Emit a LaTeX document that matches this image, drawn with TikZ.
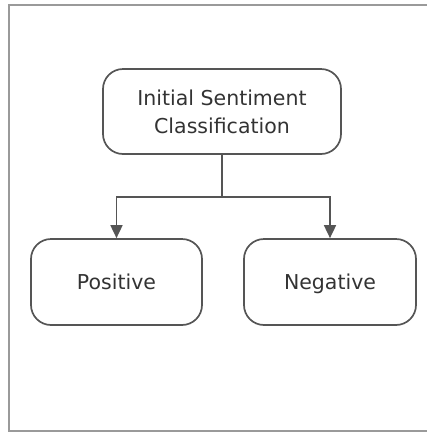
\documentclass[tikz,border=0pt]{standalone}
\usepackage{fontspec}
\setmainfont{DejaVu Sans}
\usetikzlibrary{arrows.meta}
\definecolor{boxline}{HTML}{555555}
\definecolor{txt}{HTML}{333333}
\definecolor{frame}{HTML}{9A9A9A}
\begin{document}
\begin{tikzpicture}[x=1pt,y=-1pt,
  box/.style={draw=boxline, line width=1.7pt, rounded corners=20pt, text=txt,
    font=\fontsize{20.5}{28}\selectfont, align=center, inner sep=0pt},
  leaf/.style={box, text height=15pt, text depth=0pt},
  conn/.style={draw=boxline, line width=1.7pt},
  tip/.style={-{Triangle[length=13pt,width=12pt]}}]
\useasboundingbox (0,0) rectangle (427,432);
\draw[frame, line width=1.5pt] (9,5) rectangle (430,431);
\node[box, minimum width=238pt, minimum height=85pt] (top) at (222,111.5) {Initial Sentiment\\Classification};
\node[leaf, minimum width=171pt, minimum height=86pt] (pos) at (116.5,282) {Positive};
\node[leaf, minimum width=172pt, minimum height=86pt] (neg) at (330,282) {Negative};
\coordinate (j) at (222,197);
\draw[conn] (top.south) -- (j);
\draw[conn, tip] (j) -| (pos.north);
\draw[conn, tip] (j) -| (neg.north);
\end{tikzpicture}
\end{document}
